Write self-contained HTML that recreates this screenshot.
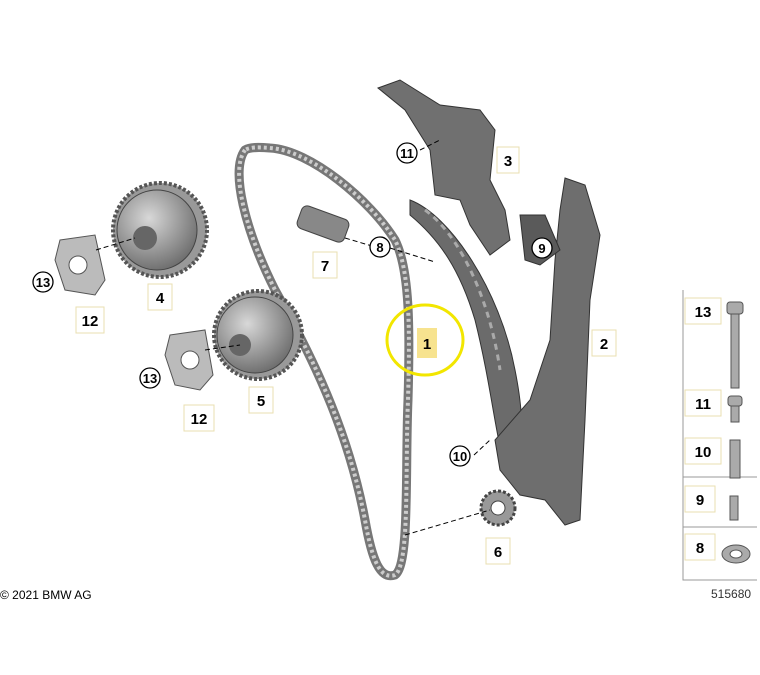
<!DOCTYPE html>
<html><head><meta charset="utf-8"><style>
html,body{margin:0;padding:0;background:#fff;}
svg{display:block;font-family:"Liberation Sans",sans-serif;}
</style></head><body>
<svg width="760" height="675" viewBox="0 0 760 675" xmlns="http://www.w3.org/2000/svg">
<defs>
<radialGradient id="g1" cx="40%" cy="35%" r="70%"><stop offset="0" stop-color="#d8d8d8"/><stop offset="1" stop-color="#6a6a6a"/></radialGradient>
</defs>
<!-- chain -->
<path d="M245,150 C230,170 245,230 275,290 C320,370 350,440 365,520 C372,560 380,580 395,575 C410,565 405,470 408,400 C410,330 410,270 395,240 C370,200 310,150 270,148 C258,147 250,147 245,150 Z" fill="none" stroke="#777" stroke-width="9"/>
<path d="M245,150 C230,170 245,230 275,290 C320,370 350,440 365,520 C372,560 380,580 395,575 C410,565 405,470 408,400 C410,330 410,270 395,240 C370,200 310,150 270,148 C258,147 250,147 245,150 Z" fill="none" stroke="#ccc" stroke-width="4" stroke-dasharray="3 3"/>
<!-- guide rail 1 -->
<path d="M410,200 C450,215 500,290 515,370 C525,420 525,460 505,470 C495,430 490,380 475,320 C460,270 440,240 410,215 Z" fill="#6b6b6b" stroke="#333"/>
<path d="M425,210 C460,235 490,300 500,370" fill="none" stroke="#aaa" stroke-width="3" stroke-dasharray="6 5"/>
<!-- tensioner rail 2 -->
<path d="M565,178 L585,185 L600,235 L590,300 L585,420 L580,520 L565,525 L545,500 L520,495 L500,470 L495,440 L530,400 L550,340 L555,260 L560,210 Z" fill="#6e6e6e" stroke="#333"/>
<path d="M520,215 L545,215 L560,250 L540,265 L525,260 Z" fill="#5a5a5a" stroke="#333"/>
<!-- bracket 3 -->
<path d="M378,88 L400,80 L440,105 L480,110 L495,130 L490,180 L505,210 L510,240 L490,255 L470,225 L460,200 L435,195 L430,150 L405,110 Z" fill="#707070" stroke="#333"/>
<!-- pin 7 -->
<rect x="298" y="212" width="50" height="24" rx="6" fill="#888" stroke="#444" transform="rotate(20 323 224)"/>
<!-- sprocket 4 -->
<circle cx="160" cy="230" r="47" fill="#999" stroke="#555" stroke-width="4" stroke-dasharray="3 2"/>
<circle cx="157" cy="230" r="40" fill="url(#g1)" stroke="#444"/>
<circle cx="145" cy="238" r="12" fill="#666"/>
<!-- sprocket 5 -->
<circle cx="258" cy="335" r="44" fill="#999" stroke="#555" stroke-width="4" stroke-dasharray="3 2"/>
<circle cx="255" cy="335" r="38" fill="url(#g1)" stroke="#444"/>
<circle cx="240" cy="345" r="11" fill="#666"/>
<!-- washers 13 -->
<path d="M60,240 L95,235 L105,280 L95,295 L65,290 L55,260 Z" fill="#bbb" stroke="#555"/>
<circle cx="78" cy="265" r="9" fill="#fff" stroke="#555"/>
<path d="M170,335 L205,330 L213,375 L200,390 L175,385 L165,355 Z" fill="#bbb" stroke="#555"/>
<circle cx="190" cy="360" r="9" fill="#fff" stroke="#555"/>
<!-- sprocket 6 -->
<circle cx="498" cy="508" r="17" fill="#999" stroke="#444" stroke-width="3" stroke-dasharray="3 2"/>
<circle cx="498" cy="508" r="7" fill="#fff" stroke="#444"/>
<!-- leader lines -->
<g stroke="#000" stroke-width="1" stroke-dasharray="5 3" fill="none">
<line x1="96" y1="250" x2="135" y2="238"/><line x1="205" y1="350" x2="240" y2="345"/>
<line x1="345" y1="238" x2="372" y2="246"/><line x1="390" y1="248" x2="435" y2="262"/>
<line x1="420" y1="150" x2="440" y2="140"/><line x1="405" y1="535" x2="490" y2="510"/>
<line x1="474" y1="455" x2="490" y2="440"/>
</g>
<!-- circled labels -->
<g font-size="13" font-weight="bold" text-anchor="middle" fill="#000">
<g stroke="#000" stroke-width="1.3" fill="#fff">
<circle cx="407" cy="153" r="10"/><circle cx="542" cy="248" r="10"/><circle cx="380" cy="247" r="10"/>
<circle cx="43" cy="282" r="10"/><circle cx="150" cy="378" r="10"/><circle cx="460" cy="456" r="10"/>
</g>
<text x="407" y="158">11</text><text x="542" y="253">9</text><text x="380" y="252">8</text>
<text x="43" y="287">13</text><text x="150" y="383">13</text><text x="460" y="461">10</text>
</g>
<!-- box labels -->
<g font-size="15" font-weight="bold" text-anchor="middle" fill="#000">
<g fill="none" stroke="#eadfb0" stroke-width="1">
<rect x="497" y="147" width="22" height="26"/><rect x="313" y="252" width="24" height="26"/>
<rect x="148" y="284" width="24" height="26"/><rect x="76" y="307" width="28" height="26"/>
<rect x="592" y="330" width="24" height="26"/><rect x="249" y="387" width="24" height="26"/>
<rect x="184" y="405" width="30" height="26"/><rect x="486" y="538" width="24" height="26"/>
</g>
<rect x="417" y="328" width="20" height="30" fill="#f7e38f"/>
<text x="508" y="166">3</text><text x="325" y="271">7</text><text x="160" y="303">4</text>
<text x="90" y="326">12</text><text x="604" y="349">2</text><text x="427" y="349">1</text>
<text x="261" y="406">5</text><text x="199" y="424">12</text><text x="498" y="557">6</text>
</g>
<ellipse cx="425" cy="340" rx="38" ry="35" fill="none" stroke="#f2e600" stroke-width="3"/>
<!-- right panel -->
<g fill="none" stroke="#999" stroke-width="1">
<polyline points="683,290 683,580 757,580"/>
<line x1="683" y1="477" x2="757" y2="477"/><line x1="683" y1="527" x2="757" y2="527"/>
</g>
<g fill="none" stroke="#eadfb0"><rect x="685" y="298" width="36" height="26"/><rect x="685" y="390" width="36" height="26"/><rect x="685" y="438" width="36" height="26"/><rect x="685" y="486" width="30" height="26"/><rect x="685" y="534" width="30" height="26"/></g>
<g font-size="15" font-weight="bold" text-anchor="middle">
<text x="703" y="317">13</text><text x="703" y="409">11</text><text x="703" y="457">10</text><text x="700" y="505">9</text><text x="700" y="553">8</text>
</g>
<!-- hardware -->
<g fill="#aaa" stroke="#555">
<rect x="727" y="302" width="16" height="12" rx="3"/><rect x="731" y="314" width="8" height="74"/>
<rect x="728" y="396" width="14" height="10" rx="3"/><rect x="731" y="406" width="8" height="16"/>
<rect x="730" y="440" width="10" height="38"/>
<rect x="730" y="496" width="8" height="24"/>
<ellipse cx="736" cy="554" rx="14" ry="9"/>
</g>
<ellipse cx="736" cy="554" rx="6" ry="4" fill="#fff" stroke="#555"/>
<text x="0" y="599" font-size="12" fill="#000">© 2021 BMW AG</text>
<text x="711" y="598" font-size="12" fill="#333">515680</text>
</svg>
</body></html>
